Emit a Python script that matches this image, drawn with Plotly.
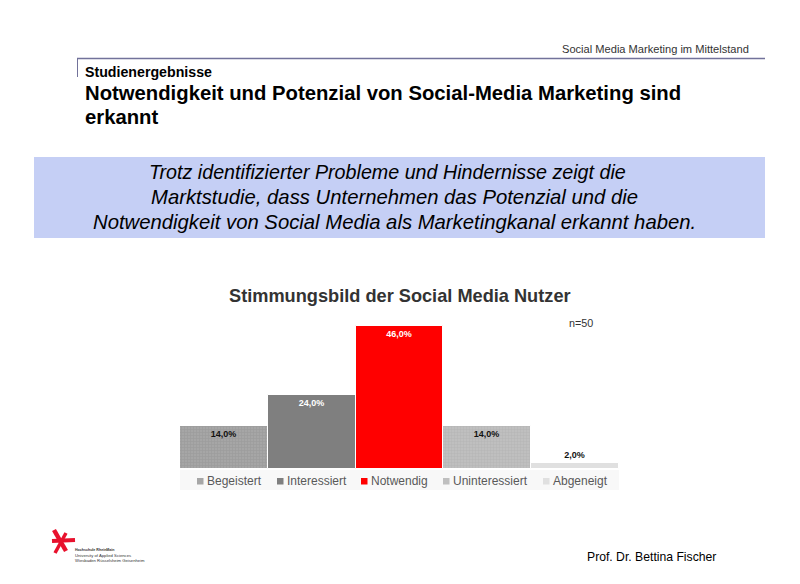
import plotly.graph_objects as go

categories = ["Begeistert", "Interessiert", "Notwendig", "Uninteressiert", "Abgeneigt"]
values = [14, 24, 46, 14, 2]
colors = ["#a6a6a6", "#7f7f7f", "#ff0000", "#bfbfbf", "#e0e0e0"]
label_colors = ["#111111", "#ffffff", "#ffffff", "#111111", "#111111"]
label_positions = ["inside", "inside", "inside", "inside", "outside"]
patterns = ["+", "", "", "+", ""]
pattern_colors = ["#8f8f8f", "#7f7f7f", "#ff0000", "#adadad", "#e0e0e0"]

W, H = 800, 584
FONT = "Liberation Sans, Arial, sans-serif"


def px(x):
    return x / W


def py(y):
    return 1 - y / H


fig = go.Figure()
for c, v, col, lc, lp, pat, pc in zip(categories, values, colors, label_colors,
                                      label_positions, patterns, pattern_colors):
    fig.add_bar(
        x=[c], y=[v], name=c, width=1,
        marker=dict(color=col, line=dict(color="#ffffff", width=1),
                    pattern=dict(shape=pat, size=3, solidity=0.35, fgcolor=pc, bgcolor=col)),
        texttemplate="<b>%{y:.1f}%</b>", textposition=lp, insidetextanchor="end",
        textfont=dict(family=FONT, size=9, color=lc), cliponaxis=False,
        showlegend=False,
    )

shapes = [
    dict(type="rect", xref="paper", yref="paper", x0=px(34), x1=px(765), y0=py(157), y1=py(238),
         fillcolor="#c5cff5", line_width=0, layer="below"),
    dict(type="line", xref="paper", yref="paper", x0=px(77), x1=px(765), y0=py(58.5), y1=py(58.5),
         line=dict(color="#72729a", width=1.5)),
    dict(type="line", xref="paper", yref="paper", x0=px(77.5), x1=px(77.5), y0=py(58), y1=py(77),
         line=dict(color="#72729a", width=1)),
    dict(type="rect", xref="paper", yref="paper", x0=px(180), x1=px(619), y0=py(470), y1=py(490),
         fillcolor="#f8f8f8", line_width=0, layer="below"),
    # logo star
    dict(type="line", xref="paper", yref="paper", x0=px(52), x1=px(75), y0=py(541), y1=py(540),
         line=dict(color="#e8112d", width=4)),
    dict(type="line", xref="paper", yref="paper", x0=px(54), x1=px(66), y0=py(530), y1=py(551),
         line=dict(color="#e8112d", width=4.5)),
    dict(type="line", xref="paper", yref="paper", x0=px(66), x1=px(55), y0=py(533), y1=py(553),
         line=dict(color="#e8112d", width=3.5)),
]


def text(x, y, s, size, color="#000000", anchor="left", **kw):
    # annotations carry about 2px of internal padding on the anchored side
    nudge = {"left": -2, "right": 2, "center": 0}[anchor]
    return dict(xref="paper", yref="paper", x=px(x + nudge), y=py(y), text=s, showarrow=False,
                xanchor=anchor, yanchor="middle", align=anchor,
                font=dict(family=FONT, size=size, color=color), **kw)


annotations = [
    text(749, 49, "Social Media Marketing im Mittelstand", 11.1, "#333333", "right"),
    text(85, 72, "<b>Studienergebnisse</b>", 14.2),
    text(85, 93, "<b>Notwendigkeit und Potenzial von Social-Media Marketing sind</b>", 20.3),
    text(85, 117, "<b>erkannt</b>", 20.3),
    text(387, 172, "<i>Trotz identifizierter Probleme und Hindernisse zeigt die</i>", 19.7, anchor="center"),
    text(394, 197, "<i>Marktstudie, dass Unternehmen das Potenzial und die</i>", 20.3, anchor="center"),
    text(394, 222, "<i>Notwendigkeit von Social Media als Marketingkanal erkannt haben.</i>", 20.3, anchor="center"),
    text(400, 296, "<b>Stimmungsbild der Social Media Nutzer</b>", 18.2, "#333333", "center"),
    text(580.5, 323, "n=50", 10.8, "#333333", "center"),
    text(587, 557, "Prof. Dr. Bettina Fischer", 12.2),
    text(75, 550, "<b>Hochschule RheinMain</b>", 3.6, "#333333"),
    text(75, 555, "University of Applied Sciences", 4.2, "#333333"),
    text(75, 560, "Wiesbaden Rüsselsheim Geisenheim", 4.2, "#333333"),
]

legend_swatch_x = [197, 277, 361, 443, 543]
for c, col, sx in zip(categories, colors, legend_swatch_x):
    shapes.append(dict(type="rect", xref="paper", yref="paper", x0=px(sx), x1=px(sx + 6.5),
                       y0=py(478), y1=py(484.5), fillcolor=col, line_width=0))
    annotations.append(text(sx + 9.5, 481, c, 12, "#595959"))

fig.update_layout(
    width=W, height=H, margin=dict(l=0, r=0, t=0, b=0, pad=0),
    paper_bgcolor="#ffffff", plot_bgcolor="rgba(0,0,0,0)",
    barmode="overlay", bargap=0, separators=",.",
    xaxis=dict(domain=[px(180), px(619)], type="category", categoryorder="array",
               categoryarray=categories, range=[-0.5, 4.5], visible=False),
    yaxis=dict(domain=[py(469), py(314)], range=[0, 50], visible=False),
    shapes=shapes, annotations=annotations, showlegend=False,
)
fig.write_html("out.html", config={"displayModeBar": False},
               post_script="document.body.style.margin='0';")
